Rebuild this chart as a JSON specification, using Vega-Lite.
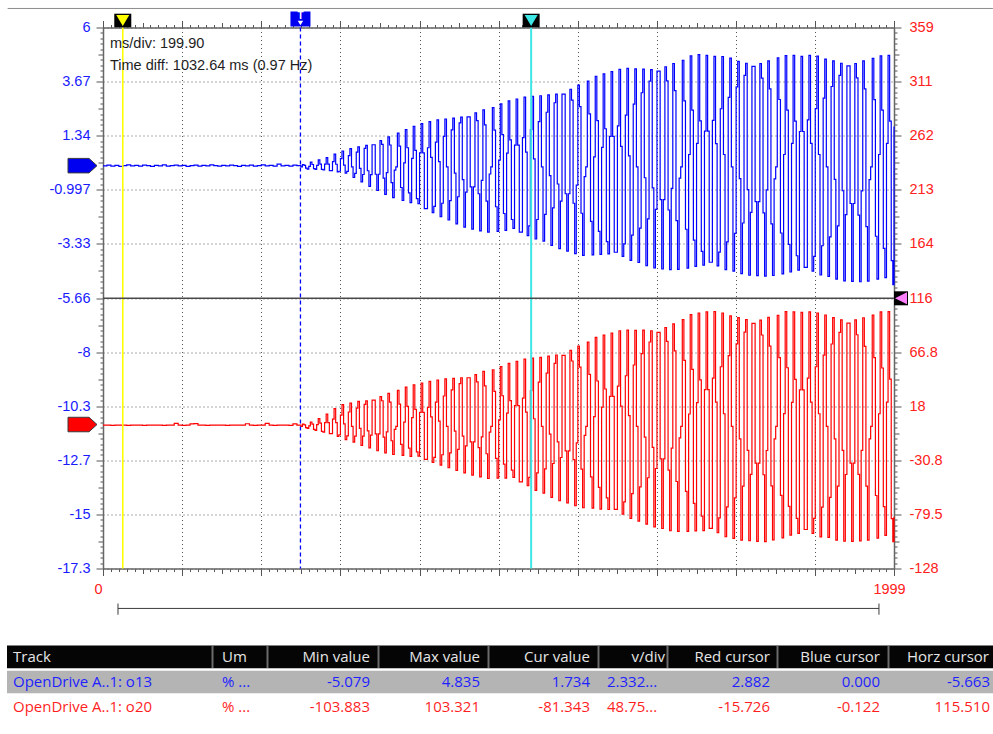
{
"$schema": "https://vega.github.io/schema/vega-lite/v6.json",
"background": "#ffffff",
"padding": {"left": 7, "top": 7.5, "right": 0, "bottom": 0},
"spacing": 29,
"config": {"view": {"stroke": null}, "font": "Liberation Sans"},
"datasets": {
"sig": [
{"t":0,"b":0.04,"r":1.0},{"t":10,"b":0.07,"r":1.1},{"t":20,"b":0.03,"r":0.9},{"t":30,"b":0.06,"r":1.0},{"t":40,"b":0.02,"r":1.1},{"t":50,"b":0.05,"r":1.0},{"t":60,"b":0.08,"r":0.9},{"t":70,"b":0.04,"r":1.0},{"t":80,"b":0.06,"r":1.1},{"t":90,"b":0.03,"r":1.0},
{"t":100,"b":0.07,"r":0.9},{"t":110,"b":0.05,"r":1.0},{"t":120,"b":0.02,"r":1.1},{"t":130,"b":0.06,"r":1.0},{"t":140,"b":0.04,"r":1.0},{"t":150,"b":0.08,"r":0.9},{"t":160,"b":0.03,"r":1.0},{"t":170,"b":0.05,"r":1.1},{"t":180,"b":0.07,"r":2.6},{"t":190,"b":0.04,"r":1.0},
{"t":200,"b":0.06,"r":0.9},{"t":210,"b":0.02,"r":1.0},{"t":220,"b":0.05,"r":2.2},{"t":230,"b":0.07,"r":2.5},{"t":240,"b":0.03,"r":1.0},{"t":250,"b":0.06,"r":1.1},{"t":260,"b":0.04,"r":0.9},{"t":270,"b":0.08,"r":1.0},{"t":280,"b":0.05,"r":1.0},{"t":290,"b":0.03,"r":1.1},
{"t":300,"b":0.06,"r":1.0},{"t":310,"b":0.04,"r":0.9},{"t":320,"b":0.07,"r":1.0},{"t":330,"b":0.05,"r":1.1},{"t":340,"b":0.02,"r":1.0},{"t":350,"b":0.06,"r":1.0},{"t":360,"b":0.04,"r":2.3},{"t":370,"b":0.07,"r":1.0},{"t":380,"b":0.03,"r":0.9},{"t":390,"b":0.05,"r":1.0},
{"t":400,"b":0.08,"r":1.1},{"t":410,"b":0.04,"r":2.6},{"t":420,"b":0.06,"r":1.0},{"t":430,"b":0.03,"r":0.9},{"t":440,"b":0.12,"r":1.0},{"t":450,"b":0.04,"r":1.1},{"t":460,"b":0.06,"r":1.0},{"t":470,"b":0.03,"r":0.9},{"t":480,"b":0.07,"r":2.2},{"t":490,"b":0.05,"r":1.0},
{"t":500,"b":0,"r":0},{"t":504,"b":0.1,"r":1.9},{"t":508,"b":0.06,"r":1.2},{"t":512,"b":-0.06,"r":-1.2},{"t":516,"b":-0.1,"r":-1.9},
{"t":520,"b":0.02,"r":0.4},{"t":524,"b":0.2,"r":3.9},{"t":528,"b":0.1,"r":2},{"t":532,"b":-0.08,"r":-2.7},{"t":536,"b":-0.11,"r":-3.7},
{"t":540,"b":0.06,"r":1.5},{"t":544,"b":0.3,"r":7},{"t":548,"b":0.12,"r":2.8},{"t":552,"b":-0.11,"r":-4.5},{"t":556,"b":-0.13,"r":-5.2},
{"t":560,"b":0.12,"r":3.4},{"t":564,"b":0.4,"r":11},{"t":568,"b":0.12,"r":3.4},{"t":572,"b":-0.16,"r":-6.5},{"t":576,"b":-0.16,"r":-6.5},
{"t":580,"b":0.22,"r":6.5},{"t":584,"b":0.55,"r":15.9},{"t":588,"b":0.11,"r":3.3},{"t":592,"b":-0.22,"r":-9.1},{"t":596,"b":-0.19,"r":-7.8},
{"t":600,"b":0.35,"r":10},{"t":604,"b":0.68,"r":19.6},{"t":608,"b":0.07,"r":2.1},{"t":612,"b":-0.27,"r":-11.9},{"t":616,"b":-0.2,"r":-8.7},
{"t":620,"b":0.48,"r":12.9},{"t":624,"b":0.78,"r":20.9},{"t":628,"b":0,"r":0},{"t":632,"b":-0.46,"r":-14.3},{"t":636,"b":-0.28,"r":-8.8},
{"t":640,"b":0.63,"r":16.4},{"t":644,"b":0.86,"r":22.4},{"t":648,"b":-0.07,"r":-1.8},{"t":652,"b":-0.65,"r":-17.1},{"t":656,"b":-0.33,"r":-8.8},
{"t":660,"b":0.79,"r":19.7},{"t":664,"b":0.92,"r":22.9},{"t":668,"b":-0.17,"r":-4.1},{"t":672,"b":-0.84,"r":-19.4},{"t":676,"b":-0.34,"r":-7.9},
{"t":680,"b":0.95,"r":23.5},{"t":684,"b":0.95,"r":23.5},{"t":688,"b":-0.32,"r":-6.8},{"t":692,"b":-1.02,"r":-22},{"t":696,"b":-0.32,"r":-6.8},
{"t":700,"b":1.13,"r":26.8},{"t":704,"b":0.97,"r":23},{"t":708,"b":-0.49,"r":-9.8},{"t":712,"b":-1.19,"r":-23.9},{"t":716,"b":-0.25,"r":-5},
{"t":720,"b":1.29,"r":29.7},{"t":724,"b":0.94,"r":21.7},{"t":728,"b":-0.68,"r":-13},{"t":732,"b":-1.33,"r":-25.4},{"t":736,"b":-0.14,"r":-2.7},
{"t":740,"b":0,"r":0},{"t":744,"b":1.45,"r":32.3},{"t":748,"b":0.89,"r":20},{"t":752,"b":-0.89,"r":-16.2},{"t":756,"b":-1.45,"r":-26.2},
{"t":760,"b":0.17,"r":3.8},{"t":764,"b":1.6,"r":35.2},{"t":768,"b":0.82,"r":18},{"t":772,"b":-1.12,"r":-19.7},{"t":776,"b":-1.54,"r":-27},
{"t":780,"b":0.36,"r":7.8},{"t":784,"b":1.74,"r":37.3},{"t":788,"b":0.71,"r":15.3},{"t":792,"b":-1.37,"r":-23},{"t":796,"b":-1.59,"r":-26.8},
{"t":800,"b":0.6,"r":12.5},{"t":804,"b":1.86,"r":39},{"t":808,"b":0.6,"r":12.5},{"t":812,"b":-1.8,"r":-29.7},{"t":816,"b":-1.8,"r":-29.7},
{"t":820,"b":0.82,"r":17},{"t":824,"b":1.95,"r":40.5},{"t":828,"b":0.41,"r":8.5},{"t":832,"b":-1.97,"r":-32.6},{"t":836,"b":-1.7,"r":-28},
{"t":840,"b":1.06,"r":21.8},{"t":844,"b":2.02,"r":41.6},{"t":848,"b":0.22,"r":4.6},{"t":852,"b":-2.15,"r":-35},{"t":856,"b":-1.57,"r":-25.6},
{"t":860,"b":1.31,"r":27.3},{"t":864,"b":2.06,"r":42.7},{"t":868,"b":0,"r":0},{"t":872,"b":-2.29,"r":-37.3},{"t":876,"b":-1.46,"r":-23.9},
{"t":880,"b":1.59,"r":32.8},{"t":884,"b":2.1,"r":43.2},{"t":888,"b":-0.27,"r":-4.4},{"t":892,"b":-2.46,"r":-39.6},{"t":896,"b":-1.29,"r":-20.8},
{"t":900,"b":1.89,"r":38.5},{"t":904,"b":2.14,"r":43.7},{"t":908,"b":-0.55,"r":-8.8},{"t":912,"b":-2.6,"r":-42},{"t":916,"b":-1.09,"r":-17.6},
{"t":920,"b":2.15,"r":43.7},{"t":924,"b":2.15,"r":43.7},{"t":928,"b":-0.86,"r":-14.1},{"t":932,"b":-2.68,"r":-44},{"t":936,"b":-0.86,"r":-14.1},
{"t":940,"b":2.32,"r":46.5},{"t":944,"b":1.99,"r":40},{"t":948,"b":-1.16,"r":-19.1},{"t":952,"b":-2.76,"r":-45.5},{"t":956,"b":-0.58,"r":-9.6},
{"t":960,"b":2.45,"r":49.4},{"t":964,"b":1.81,"r":36.4},{"t":968,"b":-1.48,"r":-24.7},{"t":972,"b":-2.81,"r":-47},{"t":976,"b":-0.31,"r":-5.2},
{"t":980,"b":0,"r":0},{"t":984,"b":2.55,"r":50.9},{"t":988,"b":1.58,"r":31.5},{"t":992,"b":-1.72,"r":-28.8},{"t":996,"b":-2.78,"r":-46.6},
{"t":1000,"b":0.29,"r":5.8},{"t":1004,"b":2.71,"r":53.8},{"t":1008,"b":1.39,"r":27.5},{"t":1012,"b":-2.01,"r":-34.1},{"t":1016,"b":-2.74,"r":-46.6},
{"t":1020,"b":0.59,"r":11.9},{"t":1024,"b":2.84,"r":56.7},{"t":1028,"b":1.16,"r":23.2},{"t":1032,"b":-2.27,"r":-39.4},{"t":1036,"b":-2.65,"r":-45.9},
{"t":1040,"b":0.93,"r":18.7},{"t":1044,"b":2.92,"r":58.5},{"t":1048,"b":0.93,"r":18.7},{"t":1052,"b":-2.81,"r":-50},{"t":1056,"b":-2.81,"r":-50},
{"t":1060,"b":1.26,"r":25.4},{"t":1064,"b":3.0,"r":60.5},{"t":1068,"b":0.63,"r":12.7},{"t":1072,"b":-2.96,"r":-53.5},{"t":1076,"b":-2.54,"r":-46},
{"t":1080,"b":1.6,"r":32.2},{"t":1084,"b":3.04,"r":61.4},{"t":1088,"b":0.34,"r":6.8},{"t":1092,"b":-3.11,"r":-57.6},{"t":1096,"b":-2.27,"r":-42},
{"t":1100,"b":1.95,"r":39.7},{"t":1104,"b":3.06,"r":62.1},{"t":1108,"b":0,"r":0},{"t":1112,"b":-3.2,"r":-60.1},{"t":1116,"b":-2.05,"r":-38.4},
{"t":1120,"b":2.35,"r":47.9},{"t":1124,"b":3.1,"r":63.2},{"t":1128,"b":-0.38,"r":-7.1},{"t":1132,"b":-3.38,"r":-63.9},{"t":1136,"b":-1.77,"r":-33.5},
{"t":1140,"b":2.76,"r":56.6},{"t":1144,"b":3.13,"r":64.2},{"t":1148,"b":-0.74,"r":-14.1},{"t":1152,"b":-3.52,"r":-67},{"t":1156,"b":-1.48,"r":-28.1},
{"t":1160,"b":3.13,"r":63.9},{"t":1164,"b":3.13,"r":63.9},{"t":1168,"b":-1.16,"r":-22.1},{"t":1172,"b":-3.63,"r":-69},{"t":1176,"b":-1.16,"r":-22.1},
{"t":1180,"b":3.34,"r":68.4},{"t":1184,"b":2.87,"r":58.8},{"t":1188,"b":-1.57,"r":-30},{"t":1192,"b":-3.74,"r":-71.5},{"t":1196,"b":-0.79,"r":-15},
{"t":1200,"b":3.52,"r":72.2},{"t":1204,"b":2.59,"r":53.2},{"t":1208,"b":-2.0,"r":-38.5},{"t":1212,"b":-3.81,"r":-73.3},{"t":1216,"b":-0.42,"r":-8.1},
{"t":1220,"b":0,"r":0},{"t":1224,"b":3.69,"r":75.7},{"t":1228,"b":2.28,"r":46.8},{"t":1232,"b":-2.35,"r":-45.6},{"t":1236,"b":-3.79,"r":-73.7},
{"t":1240,"b":0.43,"r":8.8},{"t":1244,"b":3.9,"r":80},{"t":1248,"b":1.99,"r":40.8},{"t":1252,"b":-2.78,"r":-55},{"t":1256,"b":-3.77,"r":-74.6},
{"t":1260,"b":0.84,"r":17.2},{"t":1264,"b":4.0,"r":82},{"t":1268,"b":1.64,"r":33.6},{"t":1272,"b":-3.22,"r":-64.4},{"t":1276,"b":-3.75,"r":-74.9},
{"t":1280,"b":1.31,"r":26.9},{"t":1284,"b":4.1,"r":84},{"t":1288,"b":1.31,"r":26.9},{"t":1292,"b":-3.68,"r":-74.7},{"t":1296,"b":-3.68,"r":-74.7},
{"t":1300,"b":1.76,"r":36.1},{"t":1304,"b":4.2,"r":86},{"t":1308,"b":0.88,"r":18.1},{"t":1312,"b":-3.86,"r":-79.1},{"t":1316,"b":-3.32,"r":-68},
{"t":1320,"b":2.23,"r":45.5},{"t":1324,"b":4.24,"r":86.6},{"t":1328,"b":0.47,"r":9.6},{"t":1332,"b":-4.03,"r":-83},{"t":1336,"b":-2.94,"r":-60.6},
{"t":1340,"b":2.7,"r":55.2},{"t":1344,"b":4.22,"r":86.3},{"t":1348,"b":0,"r":0},{"t":1352,"b":-4.12,"r":-85.4},{"t":1356,"b":-2.64,"r":-54.6},
{"t":1360,"b":3.19,"r":65.5},{"t":1364,"b":4.21,"r":86.5},{"t":1368,"b":-0.47,"r":-9.8},{"t":1372,"b":-4.26,"r":-88.1},{"t":1376,"b":-2.24,"r":-46.3},
{"t":1380,"b":3.69,"r":75.9},{"t":1384,"b":4.19,"r":86},{"t":1388,"b":-0.91,"r":-19},{"t":1392,"b":-4.35,"r":-90.5},{"t":1396,"b":-1.83,"r":-38},
{"t":1400,"b":4.12,"r":84.6},{"t":1404,"b":4.12,"r":84.6},{"t":1408,"b":-1.41,"r":-29.4},{"t":1412,"b":-4.4,"r":-92},{"t":1416,"b":-1.41,"r":-29.4},
{"t":1420,"b":4.31,"r":88.8},{"t":1424,"b":3.7,"r":76.4},{"t":1428,"b":-1.86,"r":-39.5},{"t":1432,"b":-4.43,"r":-94},{"t":1436,"b":-0.93,"r":-19.7},
{"t":1440,"b":4.45,"r":92.2},{"t":1444,"b":3.28,"r":67.9},{"t":1448,"b":-2.32,"r":-49.7},{"t":1452,"b":-4.42,"r":-94.5},{"t":1456,"b":-0.49,"r":-10.5},
{"t":1460,"b":0,"r":0},{"t":1464,"b":4.59,"r":96},{"t":1468,"b":2.84,"r":59.4},{"t":1472,"b":-2.69,"r":-58.5},{"t":1476,"b":-4.36,"r":-94.6},
{"t":1480,"b":0.53,"r":11.1},{"t":1484,"b":4.78,"r":100.5},{"t":1488,"b":2.44,"r":51.3},{"t":1492,"b":-3.16,"r":-69.3},{"t":1496,"b":-4.29,"r":-94.1},
{"t":1500,"b":1.01,"r":21.4},{"t":1504,"b":4.835,"r":102},{"t":1508,"b":1.98,"r":41.8},{"t":1512,"b":-3.64,"r":-80.8},{"t":1516,"b":-4.23,"r":-93.9},
{"t":1520,"b":1.54,"r":33},{"t":1524,"b":4.8,"r":103},{"t":1528,"b":1.54,"r":33},{"t":1532,"b":-4.11,"r":-91.8},{"t":1536,"b":-4.11,"r":-91.8},
{"t":1540,"b":2.0,"r":43.4},{"t":1544,"b":4.76,"r":103.321},{"t":1548,"b":1.0,"r":21.7},{"t":1552,"b":-4.27,"r":-95.8},{"t":1556,"b":-3.67,"r":-82.4},
{"t":1560,"b":2.5,"r":53.6},{"t":1564,"b":4.75,"r":102},{"t":1568,"b":0.53,"r":11.3},{"t":1572,"b":-4.43,"r":-99.4},{"t":1576,"b":-3.23,"r":-72.5},
{"t":1580,"b":2.99,"r":63.6},{"t":1584,"b":4.68,"r":99.4},{"t":1588,"b":0,"r":0},{"t":1592,"b":-4.49,"r":-100.8},{"t":1596,"b":-2.87,"r":-64.4},
{"t":1600,"b":3.44,"r":74.2},{"t":1604,"b":4.54,"r":97.9},{"t":1608,"b":-0.51,"r":-11.4},{"t":1612,"b":-4.6,"r":-102.5},{"t":1616,"b":-2.42,"r":-53.8},
{"t":1620,"b":3.94,"r":84.7},{"t":1624,"b":4.46,"r":96.1},{"t":1628,"b":-0.98,"r":-21.6},{"t":1632,"b":-4.67,"r":-103},{"t":1636,"b":-1.96,"r":-43.3},
{"t":1640,"b":4.33,"r":92.7},{"t":1644,"b":4.33,"r":92.7},{"t":1648,"b":-1.5,"r":-33.1},{"t":1652,"b":-4.69,"r":-103.5},{"t":1656,"b":-1.5,"r":-33.1},
{"t":1660,"b":4.44,"r":95.6},{"t":1664,"b":3.82,"r":82.2},{"t":1668,"b":-1.98,"r":-43.6},{"t":1672,"b":-4.71,"r":-103.8},{"t":1676,"b":-0.99,"r":-21.8},
{"t":1680,"b":4.56,"r":98},{"t":1684,"b":3.36,"r":72.2},{"t":1688,"b":-2.46,"r":-53.7},{"t":1692,"b":-4.68,"r":-102.2},{"t":1696,"b":-0.52,"r":-11.4},
{"t":1700,"b":0,"r":0},{"t":1704,"b":4.69,"r":99.9},{"t":1708,"b":2.9,"r":61.8},{"t":1712,"b":-2.85,"r":-62.1},{"t":1716,"b":-4.61,"r":-100.4},
{"t":1720,"b":0.53,"r":11.4},{"t":1724,"b":4.79,"r":103.3},{"t":1728,"b":2.44,"r":52.7},{"t":1732,"b":-3.34,"r":-72.1},{"t":1736,"b":-4.53,"r":-97.9},
{"t":1740,"b":1.01,"r":21.6},{"t":1744,"b":4.8,"r":103},{"t":1748,"b":1.97,"r":42.2},{"t":1752,"b":-3.83,"r":-82.9},{"t":1756,"b":-4.45,"r":-96.3},
{"t":1760,"b":1.52,"r":32.8},{"t":1764,"b":4.76,"r":102.6},{"t":1768,"b":1.52,"r":32.8},{"t":1772,"b":-4.33,"r":-92.9},{"t":1776,"b":-4.33,"r":-92.9},
{"t":1780,"b":2.02,"r":43.3},{"t":1784,"b":4.8,"r":103.1},{"t":1788,"b":1.01,"r":21.7},{"t":1792,"b":-4.49,"r":-96.3},{"t":1796,"b":-3.86,"r":-82.8},
{"t":1800,"b":2.51,"r":53.6},{"t":1804,"b":4.77,"r":102},{"t":1808,"b":0.53,"r":11.3},{"t":1812,"b":-4.66,"r":-99.6},{"t":1816,"b":-3.4,"r":-72.7},
{"t":1820,"b":2.96,"r":64},{"t":1824,"b":4.64,"r":100.2},{"t":1828,"b":0,"r":0},{"t":1832,"b":-4.72,"r":-99.9},{"t":1836,"b":-3.02,"r":-63.9},
{"t":1840,"b":3.46,"r":74.1},{"t":1844,"b":4.56,"r":97.8},{"t":1848,"b":-0.54,"r":-11.4},{"t":1852,"b":-4.84,"r":-102.5},{"t":1856,"b":-2.54,"r":-53.8},
{"t":1860,"b":3.94,"r":84.5},{"t":1864,"b":4.46,"r":95.8},{"t":1868,"b":-1.03,"r":-21.7},{"t":1872,"b":-4.91,"r":-103.3},{"t":1876,"b":-2.06,"r":-43.4},
{"t":1880,"b":4.35,"r":92.9},{"t":1884,"b":4.35,"r":92.9},{"t":1888,"b":-1.58,"r":-33.2},{"t":1892,"b":-4.93,"r":-103.6},{"t":1896,"b":-1.58,"r":-33.2},
{"t":1900,"b":4.45,"r":95.8},{"t":1904,"b":3.83,"r":82.4},{"t":1908,"b":-2.08,"r":-43.3},{"t":1912,"b":-4.95,"r":-103.2},{"t":1916,"b":-1.04,"r":-21.7},
{"t":1920,"b":4.56,"r":97.7},{"t":1924,"b":3.36,"r":72},{"t":1928,"b":-2.58,"r":-53.8},{"t":1932,"b":-4.92,"r":-102.5},{"t":1936,"b":-0.55,"r":-11.4},
{"t":1940,"b":0,"r":0},{"t":1944,"b":4.67,"r":100},{"t":1948,"b":2.89,"r":61.9},{"t":1952,"b":-2.99,"r":-62.3},{"t":1956,"b":-4.84,"r":-100.7},
{"t":1960,"b":0.53,"r":11.3},{"t":1964,"b":4.78,"r":103},{"t":1968,"b":2.44,"r":52.5},{"t":1972,"b":-3.51,"r":-72.3},{"t":1976,"b":-4.77,"r":-98.1},
{"t":1980,"b":1.01,"r":21.7},{"t":1984,"b":4.8,"r":103.3},{"t":1988,"b":1.97,"r":42.4},{"t":1992,"b":-4.04,"r":-83.1},{"t":1996,"b":-5.079,"r":-103.883},
{"t":1999,"b":1.734,"r":-81.343}
],
"tbl": [
{"kind":"head","track":"Track","um":"Um","min":"Min value","max":"Max value","cur":"Cur value","vdiv":"","vdivh":"v/div","red":"Red cursor","blue":"Blue cursor","horz":"","horzh":"Horz cursor"},
{"kind":"o13","track":"OpenDrive A..1: o13","um":"% ...","min":"-5.079","max":"4.835","cur":"1.734","vdiv":"2.332...","vdivh":"","red":"2.882","blue":"0.000","horz":"-5.663","horzh":""},
{"kind":"o20","track":"OpenDrive A..1: o20","um":"% ...","min":"-103.883","max":"103.321","cur":"-81.343","vdiv":"48.75...","vdivh":"","red":"-15.726","blue":"-0.122","horz":"115.510","horzh":""}
]
},
"vconcat": [
{
"width": 791, "height": 541,
"resolve": {"scale": {"y": "independent"}, "axis": {"x": "independent"}},
"layer": [
{"layer": [
{"data": {"name": "sig"}, "mark": {"type": "line", "interpolate": "step-after", "color": "#ff0000", "strokeWidth": 1.2},
 "encoding": {
  "x": {"field": "t", "type": "quantitative", "scale": {"domain": [0, 1999], "nice": false, "zero": false},
   "axis": {"orient": "top", "title": null, "labels": false, "grid": false, "domainColor": "#666666", "domainWidth": 1.5, "tickColor": "#555555", "tickCount": 1000,
    "values": [0,20,40,60,80,100,120,140,160,180,200,220,240,260,280,300,320,340,360,380,400,420,440,460,480,500,520,540,560,580,600,620,640,660,680,700,720,740,760,780,800,820,840,860,880,900,920,940,960,980,1000,1020,1040,1060,1080,1100,1120,1140,1160,1180,1200,1220,1240,1260,1280,1300,1320,1340,1360,1380,1400,1420,1440,1460,1480,1500,1520,1540,1560,1580,1600,1620,1640,1660,1680,1700,1720,1740,1760,1780,1800,1820,1840,1860,1880,1900,1920,1940,1960,1980,1999],
    "tickSize": {"condition": [{"test": "round(datum.value/19.99)%10==0", "value": 7}, {"test": "round(datum.value/19.99)%5==0", "value": 5}], "value": 3}}},
  "y": {"field": "r", "type": "quantitative", "scale": {"domain": [-128, 359], "nice": false, "zero": false},
   "axis": {"orient": "right", "title": null, "grid": false, "domainColor": "#666666", "domainWidth": 1.5, "tickColor": "#555555", "tickCount": 1000,
    "values": [359,354.13,349.26,344.39,339.52,334.65,329.78,324.91,320.04,315.17,310.3,305.43,300.56,295.69,290.82,285.95,281.08,276.21,271.34,266.47,261.6,256.73,251.86,246.99,242.12,237.25,232.38,227.51,222.64,217.77,212.9,208.03,203.16,198.29,193.42,188.55,183.68,178.81,173.94,169.07,164.2,159.33,154.46,149.59,144.72,139.85,134.98,130.11,125.24,120.37,115.5,110.63,105.76,100.89,96.02,91.15,86.28,81.41,76.54,71.67,66.8,61.93,57.06,52.19,47.32,42.45,37.58,32.71,27.84,22.97,18.1,13.23,8.36,3.49,-1.38,-6.25,-11.12,-15.99,-20.86,-25.73,-30.6,-35.47,-40.34,-45.21,-50.08,-54.95,-59.82,-64.69,-69.56,-74.43,-79.3,-84.17,-89.04,-93.91,-98.78,-103.65,-108.52,-113.39,-118.26,-123.13,-128],
    "labelExpr": "round((359-datum.value)/4.87)%10==0 ? ['359','311','262','213','164','116','66.8','18','-30.8','-79.5','-128'][round((359-datum.value)/48.7)] : ''",
    "labelColor": "#ff2020", "labelFont": "Liberation Sans", "labelFontSize": 14.5, "labelPadding": 8, "labelOverlap": false, "labelBound": false, "labelFlush": false,
    "tickSize": {"condition": [{"test": "round((359-datum.value)/4.87)%10==0", "value": 7}, {"test": "round((359-datum.value)/4.87)%5==0", "value": 5}], "value": 3}}}
 }},
{"data": {"values": [{}]}, "mark": {"type": "point", "shape": "M-1,-0.5L0.45,-0.5L1,0L0.45,0.5L-1,0.5Z", "size": 841, "filled": true, "fill": "#ff0000", "stroke": "#3a3a3a", "strokeWidth": 1, "opacity": 1, "xOffset": -20.5},
 "encoding": {"x": {"datum": 0, "type": "quantitative", "scale": {"domain": [0, 1999], "nice": false, "zero": false}},
  "y": {"datum": 1.6, "type": "quantitative", "scale": {"domain": [-128, 359], "nice": false, "zero": false}}}}
]},
{"layer": [
{"data": {"name": "sig"}, "mark": {"type": "line", "interpolate": "step-after", "color": "#0000ff", "strokeWidth": 1.2},
 "encoding": {
  "x": {"field": "t", "type": "quantitative", "scale": {"domain": [0, 1999], "nice": false, "zero": false},
   "axis": {"orient": "bottom", "title": null, "domainColor": "#666666", "domainWidth": 1.5, "tickColor": "#555555", "tickCount": 1000,
    "values": [0,20,40,60,80,100,120,140,160,180,200,220,240,260,280,300,320,340,360,380,400,420,440,460,480,500,520,540,560,580,600,620,640,660,680,700,720,740,760,780,800,820,840,860,880,900,920,940,960,980,1000,1020,1040,1060,1080,1100,1120,1140,1160,1180,1200,1220,1240,1260,1280,1300,1320,1340,1360,1380,1400,1420,1440,1460,1480,1500,1520,1540,1560,1580,1600,1620,1640,1660,1680,1700,1720,1740,1760,1780,1800,1820,1840,1860,1880,1900,1920,1940,1960,1980,1999],
    "labelExpr": "datum.value == 0 ? '0' : (datum.value == 1999 ? '1999' : '')",
    "labelColor": "#ff2020", "labelFont": "Liberation Sans", "labelFontSize": 14.5, "labelPadding": 7, "labelOffset": -5, "labelOverlap": false, "labelBound": false, "labelFlush": false,
    "tickSize": {"condition": [{"test": "round(datum.value/19.99)%10==0", "value": 7}, {"test": "round(datum.value/19.99)%5==0", "value": 5}], "value": 3},
    "grid": true, "gridColor": "#555555", "gridDash": [1, 3], "gridWidth": 1,
    "gridOpacity": {"condition": {"test": "round(datum.value/19.99)%10==0", "value": 1}, "value": 0}}},
  "y": {"field": "b", "type": "quantitative", "scale": {"domain": [-17.3, 6], "nice": false, "zero": false},
   "axis": {"orient": "left", "title": null, "domainColor": "#666666", "domainWidth": 1.5, "tickColor": "#555555", "tickCount": 1000,
    "values": [6,5.767,5.534,5.301,5.068,4.835,4.602,4.369,4.136,3.903,3.67,3.437,3.204,2.971,2.738,2.505,2.272,2.039,1.806,1.573,1.34,1.107,0.874,0.641,0.408,0.175,-0.058,-0.291,-0.524,-0.757,-0.99,-1.223,-1.456,-1.689,-1.922,-2.155,-2.388,-2.621,-2.854,-3.087,-3.32,-3.553,-3.786,-4.019,-4.252,-4.485,-4.718,-4.951,-5.184,-5.417,-5.65,-5.883,-6.116,-6.349,-6.582,-6.815,-7.048,-7.281,-7.514,-7.747,-7.98,-8.213,-8.446,-8.679,-8.912,-9.145,-9.378,-9.611,-9.844,-10.077,-10.31,-10.543,-10.776,-11.009,-11.242,-11.475,-11.708,-11.941,-12.174,-12.407,-12.64,-12.873,-13.106,-13.339,-13.572,-13.805,-14.038,-14.271,-14.504,-14.737,-14.97,-15.203,-15.436,-15.669,-15.902,-16.135,-16.368,-16.601,-16.834,-17.067,-17.3],
    "labelExpr": "round((6-datum.value)/0.233)%10==0 ? ['6','3.67','1.34','-0.997','-3.33','-5.66','-8','-10.3','-12.7','-15','-17.3'][round((6-datum.value)/2.33)] : ''",
    "labelColor": "#1a1aff", "labelFont": "Liberation Sans", "labelFontSize": 14.5, "labelPadding": 6, "labelOverlap": false, "labelBound": false, "labelFlush": false,
    "tickSize": {"condition": [{"test": "round((6-datum.value)/0.233)%10==0", "value": 7}, {"test": "round((6-datum.value)/0.233)%5==0", "value": 5}], "value": 3},
    "grid": true, "gridColor": "#555555", "gridDash": [1, 3], "gridWidth": 1,
    "gridOpacity": {"condition": {"test": "round((6-datum.value)/0.233)%10==0", "value": 1}, "value": 0}}}
 }},
{"data": {"values": [{}]}, "mark": {"type": "rule", "color": "#ffff00", "strokeWidth": 1.6},
 "encoding": {"x": {"datum": 50, "type": "quantitative", "scale": {"domain": [0, 1999], "nice": false, "zero": false}}}},
{"data": {"values": [{}]}, "mark": {"type": "rule", "color": "#0000ff", "strokeWidth": 1.3, "strokeDash": [4, 3]},
 "encoding": {"x": {"datum": 499, "type": "quantitative", "scale": {"domain": [0, 1999], "nice": false, "zero": false}}}},
{"data": {"values": [{}]}, "mark": {"type": "rule", "color": "#3ee6e6", "strokeWidth": 2},
 "encoding": {"x": {"datum": 1082, "type": "quantitative", "scale": {"domain": [0, 1999], "nice": false, "zero": false}}}},
{"data": {"values": [{}]}, "mark": {"type": "rule", "color": "#4a4a4a", "strokeWidth": 1.6},
 "encoding": {"y": {"datum": -5.663, "type": "quantitative", "scale": {"domain": [-17.3, 6], "nice": false, "zero": false}}}},
{"data": {"values": [{}]}, "mark": {"type": "text", "text": "ms/div: 199.90", "align": "left", "baseline": "middle", "font": "Liberation Sans", "fontSize": 14.5, "color": "#1e1e1e"},
 "encoding": {"x": {"datum": 17.7, "type": "quantitative", "scale": {"domain": [0, 1999], "nice": false, "zero": false}},
  "y": {"datum": 5.31, "type": "quantitative", "scale": {"domain": [-17.3, 6], "nice": false, "zero": false}}}},
{"data": {"values": [{}]}, "mark": {"type": "text", "text": "Time diff: 1032.64 ms (0.97 Hz)", "align": "left", "baseline": "middle", "font": "Liberation Sans", "fontSize": 14.5, "color": "#1e1e1e"},
 "encoding": {"x": {"datum": 17.7, "type": "quantitative", "scale": {"domain": [0, 1999], "nice": false, "zero": false}},
  "y": {"datum": 4.36, "type": "quantitative", "scale": {"domain": [-17.3, 6], "nice": false, "zero": false}}}},
{"data": {"values": [{}]}, "mark": {"type": "point", "shape": "M-1,-0.8L1,-0.8L1,0.8L-1,0.8Z", "size": 289, "filled": true, "fill": "#000000", "opacity": 1, "yOffset": -7},
 "encoding": {"x": {"datum": 50, "type": "quantitative", "scale": {"domain": [0, 1999], "nice": false, "zero": false}},
  "y": {"datum": 6, "type": "quantitative", "scale": {"domain": [-17.3, 6], "nice": false, "zero": false}}}},
{"data": {"values": [{}]}, "mark": {"type": "point", "shape": "M-1,-0.85L1,-0.85L0,0.85Z", "size": 169, "filled": true, "fill": "#ffff00", "opacity": 1, "yOffset": -7},
 "encoding": {"x": {"datum": 50, "type": "quantitative", "scale": {"domain": [0, 1999], "nice": false, "zero": false}},
  "y": {"datum": 6, "type": "quantitative", "scale": {"domain": [-17.3, 6], "nice": false, "zero": false}}}},
{"data": {"values": [{}]}, "mark": {"type": "point", "shape": "M-1,-0.8L1,-0.8L1,0.8L-1,0.8Z", "size": 289, "filled": true, "fill": "#000000", "opacity": 1, "yOffset": -7},
 "encoding": {"x": {"datum": 1082, "type": "quantitative", "scale": {"domain": [0, 1999], "nice": false, "zero": false}},
  "y": {"datum": 6, "type": "quantitative", "scale": {"domain": [-17.3, 6], "nice": false, "zero": false}}}},
{"data": {"values": [{}]}, "mark": {"type": "point", "shape": "M-1,-0.85L1,-0.85L0,0.85Z", "size": 169, "filled": true, "fill": "#3ee6e6", "opacity": 1, "yOffset": -7},
 "encoding": {"x": {"datum": 1082, "type": "quantitative", "scale": {"domain": [0, 1999], "nice": false, "zero": false}},
  "y": {"datum": 6, "type": "quantitative", "scale": {"domain": [-17.3, 6], "nice": false, "zero": false}}}},
{"data": {"values": [{}]}, "mark": {"type": "point", "shape": "M-1,-0.75L1,-0.75L1,0.75L-1,0.75Z", "size": 400, "filled": true, "fill": "#0000f0", "opacity": 1, "yOffset": -8.5},
 "encoding": {"x": {"datum": 499, "type": "quantitative", "scale": {"domain": [0, 1999], "nice": false, "zero": false}},
  "y": {"datum": 6, "type": "quantitative", "scale": {"domain": [-17.3, 6], "nice": false, "zero": false}}}},
{"data": {"values": [{}]}, "mark": {"type": "text", "text": "T", "align": "center", "baseline": "middle", "font": "Liberation Sans", "fontSize": 10, "fontWeight": "bold", "color": "#ffffff", "yOffset": -12},
 "encoding": {"x": {"datum": 499, "type": "quantitative", "scale": {"domain": [0, 1999], "nice": false, "zero": false}},
  "y": {"datum": 6, "type": "quantitative", "scale": {"domain": [-17.3, 6], "nice": false, "zero": false}}}},
{"data": {"values": [{}]}, "mark": {"type": "point", "shape": "M-1,-0.85L1,-0.85L0,0.85Z", "size": 30, "filled": true, "fill": "#ffffff", "opacity": 1, "yOffset": -4.5},
 "encoding": {"x": {"datum": 499, "type": "quantitative", "scale": {"domain": [0, 1999], "nice": false, "zero": false}},
  "y": {"datum": 6, "type": "quantitative", "scale": {"domain": [-17.3, 6], "nice": false, "zero": false}}}},
{"data": {"values": [{}]}, "mark": {"type": "point", "shape": "M-1,-0.5L0.45,-0.5L1,0L0.45,0.5L-1,0.5Z", "size": 841, "filled": true, "fill": "#0000f0", "stroke": "#3a3a3a", "strokeWidth": 1, "opacity": 1, "xOffset": -20.5},
 "encoding": {"x": {"datum": 0, "type": "quantitative", "scale": {"domain": [0, 1999], "nice": false, "zero": false}},
  "y": {"datum": 0.05, "type": "quantitative", "scale": {"domain": [-17.3, 6], "nice": false, "zero": false}}}},
{"data": {"values": [{}]}, "mark": {"type": "point", "shape": "M-1,-1L1,-1L1,1L-1,1Z", "size": 196, "filled": true, "fill": "#000000", "opacity": 1, "xOffset": 7},
 "encoding": {"x": {"datum": 1999, "type": "quantitative", "scale": {"domain": [0, 1999], "nice": false, "zero": false}},
  "y": {"datum": -5.663, "type": "quantitative", "scale": {"domain": [-17.3, 6], "nice": false, "zero": false}}}},
{"data": {"values": [{}]}, "mark": {"type": "point", "shape": "M1,-1L1,1L-1,0Z", "size": 144, "filled": true, "fill": "#ff80ff", "opacity": 1, "xOffset": 7},
 "encoding": {"x": {"datum": 1999, "type": "quantitative", "scale": {"domain": [0, 1999], "nice": false, "zero": false}},
  "y": {"datum": -5.663, "type": "quantitative", "scale": {"domain": [-17.3, 6], "nice": false, "zero": false}}}},
{"data": {"values": [{}]}, "mark": {"type": "rule", "color": "#8c8c8c", "strokeWidth": 1},
 "encoding": {"x": {"datum": -241, "type": "quantitative", "scale": {"domain": [0, 1999], "nice": false, "zero": false}},
  "x2": {"datum": 2249},
  "y": {"datum": 6.82, "type": "quantitative", "scale": {"domain": [-17.3, 6], "nice": false, "zero": false}}}},
{"data": {"values": [{}]}, "mark": {"type": "rule", "color": "#3c3c3c", "strokeWidth": 1},
 "encoding": {"x": {"datum": 37.9, "type": "quantitative", "scale": {"domain": [0, 1999], "nice": false, "zero": false}},
  "x2": {"datum": 1961},
  "y": {"datum": -19.02, "type": "quantitative", "scale": {"domain": [-17.3, 6], "nice": false, "zero": false}}}},
{"data": {"values": [{}]}, "mark": {"type": "rule", "color": "#3c3c3c", "strokeWidth": 1},
 "encoding": {"x": {"datum": 37.9, "type": "quantitative", "scale": {"domain": [0, 1999], "nice": false, "zero": false}},
  "y": {"datum": -18.81, "type": "quantitative", "scale": {"domain": [-17.3, 6], "nice": false, "zero": false}},
  "y2": {"datum": -19.29}}},
{"data": {"values": [{}]}, "mark": {"type": "rule", "color": "#3c3c3c", "strokeWidth": 1},
 "encoding": {"x": {"datum": 1961, "type": "quantitative", "scale": {"domain": [0, 1999], "nice": false, "zero": false}},
  "y": {"datum": -18.81, "type": "quantitative", "scale": {"domain": [-17.3, 6], "nice": false, "zero": false}},
  "y2": {"datum": -19.29}}}
]}
]
},
{
"width": 791, "height": 73,
"data": {"name": "tbl"},
"encoding": {
 "y": {"field": "kind", "type": "nominal", "scale": {"domain": ["head", "o13", "o20"], "paddingInner": 0.1, "paddingOuter": 0}, "axis": null},
 "color": {"condition": [{"test": "datum.kind=='head'", "value": "#e6e6e6"}, {"test": "datum.kind=='o13'", "value": "#1f1fff"}], "value": "#ff1f1f"}
},
"layer": [
{"mark": {"type": "rect"},
 "encoding": {
  "x": {"datum": -96, "type": "quantitative", "scale": {"domain": [0, 791], "nice": false, "zero": false},
   "axis": {"orient": "top", "offset": -22, "title": null, "tickCount": 1000, "values": [109, 164, 275, 385, 495, 564, 674, 785], "labels": false, "domain": false, "grid": false, "ticks": true, "tickSize": 22, "tickColor": "#6b6b6b", "tickWidth": 2, "zindex": 1}},
  "x2": {"datum": 890},
  "fill": {"condition": [{"test": "datum.kind=='head'", "value": "#050505"}, {"test": "datum.kind=='o13'", "value": "#b4b4b4"}], "value": "#ffffff"}
 }},
{"mark": {"type": "text", "align": "left", "baseline": "middle", "font": "Open Sans", "fontSize": 15}, "encoding": {"x": {"datum": -90, "type": "quantitative"}, "text": {"field": "track"}}},
{"mark": {"type": "text", "align": "left", "baseline": "middle", "font": "Open Sans", "fontSize": 15}, "encoding": {"x": {"datum": 119, "type": "quantitative"}, "text": {"field": "um"}}},
{"mark": {"type": "text", "align": "right", "baseline": "middle", "font": "Open Sans", "fontSize": 15}, "encoding": {"x": {"datum": 267, "type": "quantitative"}, "text": {"field": "min"}}},
{"mark": {"type": "text", "align": "right", "baseline": "middle", "font": "Open Sans", "fontSize": 15}, "encoding": {"x": {"datum": 377, "type": "quantitative"}, "text": {"field": "max"}}},
{"mark": {"type": "text", "align": "right", "baseline": "middle", "font": "Open Sans", "fontSize": 15}, "encoding": {"x": {"datum": 487, "type": "quantitative"}, "text": {"field": "cur"}}},
{"mark": {"type": "text", "align": "left", "baseline": "middle", "font": "Open Sans", "fontSize": 15}, "encoding": {"x": {"datum": 504, "type": "quantitative"}, "text": {"field": "vdiv"}}},
{"mark": {"type": "text", "align": "right", "baseline": "middle", "font": "Open Sans", "fontSize": 15}, "encoding": {"x": {"datum": 562, "type": "quantitative"}, "text": {"field": "vdivh"}}},
{"mark": {"type": "text", "align": "right", "baseline": "middle", "font": "Open Sans", "fontSize": 15}, "encoding": {"x": {"datum": 667, "type": "quantitative"}, "text": {"field": "red"}}},
{"mark": {"type": "text", "align": "right", "baseline": "middle", "font": "Open Sans", "fontSize": 15}, "encoding": {"x": {"datum": 777, "type": "quantitative"}, "text": {"field": "blue"}}},
{"mark": {"type": "text", "align": "right", "baseline": "middle", "font": "Open Sans", "fontSize": 15}, "encoding": {"x": {"datum": 887, "type": "quantitative"}, "text": {"field": "horz"}}},
{"mark": {"type": "text", "align": "left", "baseline": "middle", "font": "Open Sans", "fontSize": 15}, "encoding": {"x": {"datum": 804, "type": "quantitative"}, "text": {"field": "horzh"}}}
]
}
]
}
